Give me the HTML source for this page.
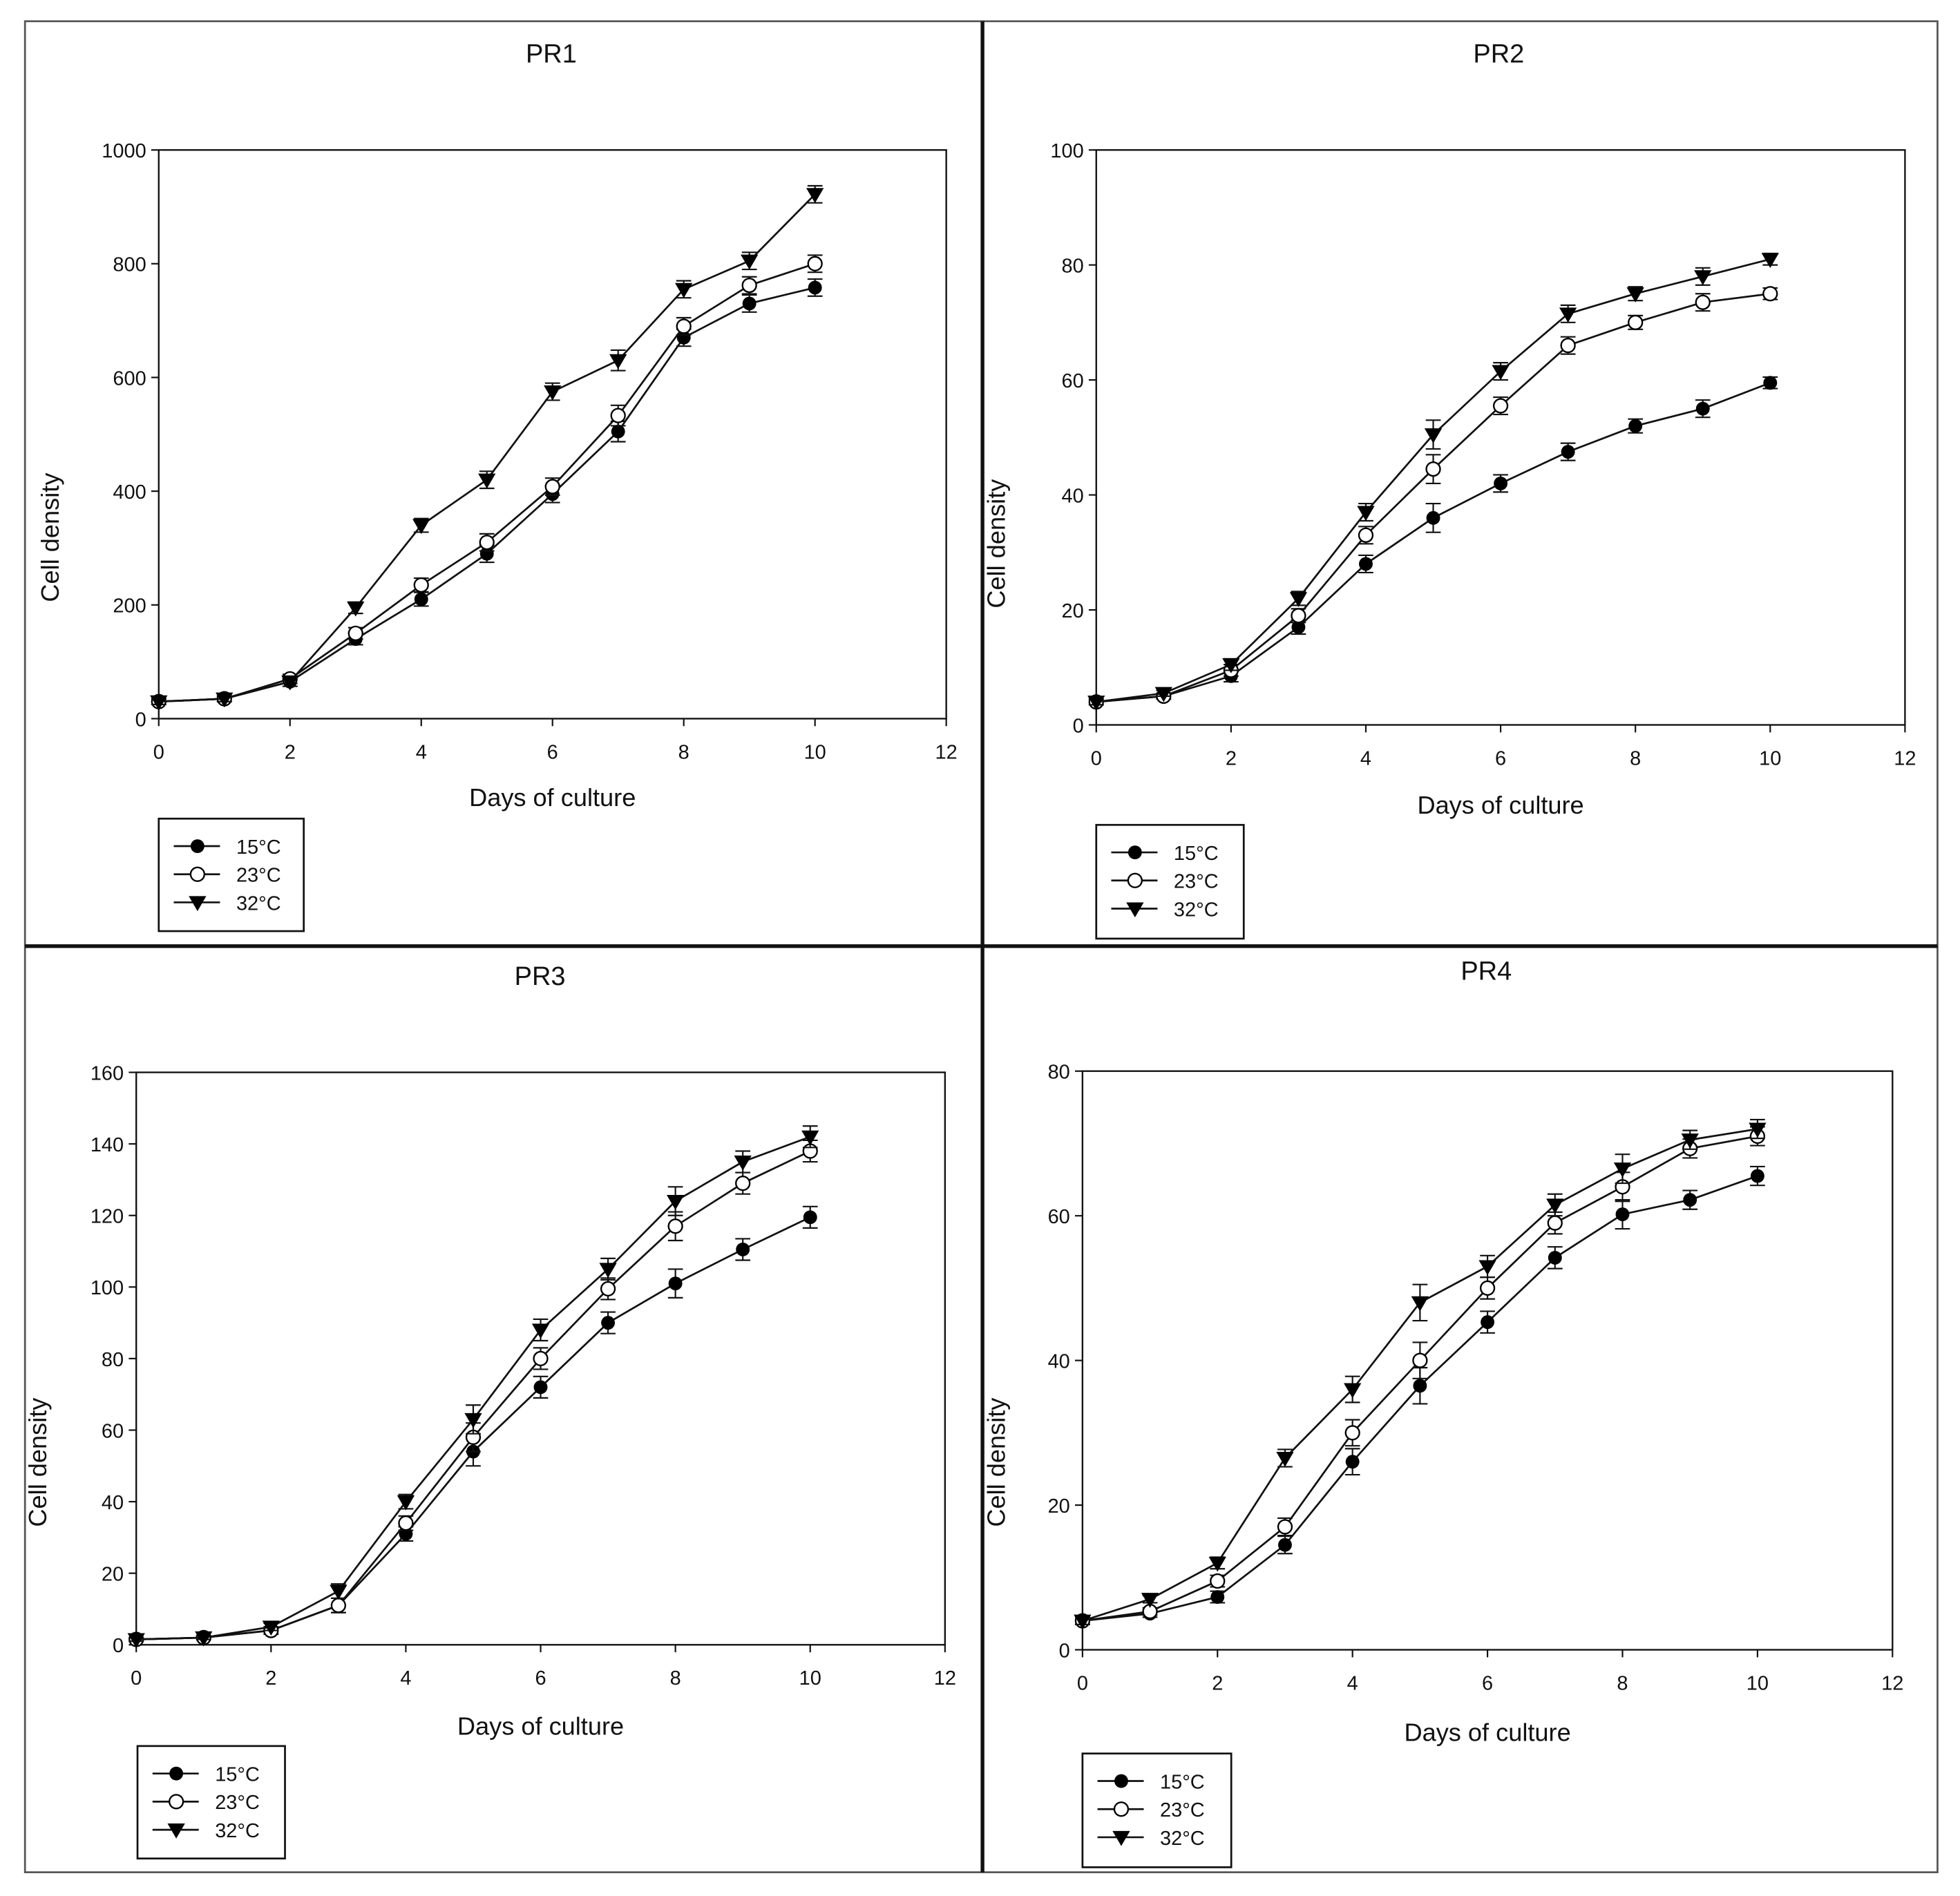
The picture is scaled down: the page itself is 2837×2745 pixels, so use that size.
<!DOCTYPE html>
<html><head><meta charset="utf-8"><style>
html,body{margin:0;padding:0;background:#fff;}
svg{display:block;font-family:"Liberation Sans",Arial,sans-serif;}
</style></head><body>
<svg id="fig" width="2837" height="2745" viewBox="0 0 1568 1517" preserveAspectRatio="none" xmlns="http://www.w3.org/2000/svg">
<rect x="0" y="0" width="1568" height="1517" fill="#fff"/>
<rect x="20" y="17" width="1530" height="1481" fill="none" stroke="#555" stroke-width="1.5"/>
<line x1="786" y1="17" x2="786" y2="1498" stroke="#111" stroke-width="3"/>
<line x1="20" y1="757" x2="1550" y2="757" stroke="#111" stroke-width="3"/>
</svg>
<script>
const days=[0,1,2,3,4,5,6,7,8,9,10];
const seriesNames=["15°C","23°C","32°C"];
const xTicks=[0,2,4,6,8,10,12];
const pr1Y15=[30,35,65,140,210,290,395,505,670,730,758];
const pr1Y23=[30,35,70,150,235,310,408,533,690,762,800];
const pr1Y32=[30,35,65,195,340,420,575,630,755,805,922];
const pr1Err=[5,5,8,10,12,15,15,18,15,15,15];
const pr1YTicks=[0,200,400,600,800,1000];
const pr2Y15=[4,5,8.5,17,28,36,42,47.5,52,55,59.5];
const pr2Y23=[4,5,9.5,19,33,44.5,55.5,66,70,73.5,75];
const pr2Y32=[4,5.5,10.5,22,37,50.5,61.5,71.5,75,78,81];
const pr2Err=[0.5,0.5,1,1.2,1.5,2.5,1.5,1.5,1.2,1.5,1];
const pr2YTicks=[0,20,40,60,80,100];
const pr3Y15=[1.5,2,4,11,31,54,72,90,101,110.5,119.5];
const pr3Y23=[1.5,2,4,11,34,58,80,99.5,117,129,138];
const pr3Y32=[1.5,2,5,15,40,63,88,105,124,135,142];
const pr3Err=[0.5,0.5,1,2,2,4,3,3,4,3,3];
const pr3YTicks=[0,20,40,60,80,100,120,140,160];
const pr4Y15=[4,5,7.3,14.5,26,36.5,45.3,54.2,60.2,62.2,65.5];
const pr4Y23=[4,5.3,9.5,17,30,40,50,59,64,69.3,71];
const pr4Y32=[4,7,12,26.5,36,48,53,61.5,66.5,70.5,72];
const pr4Err=[0.5,0.5,0.8,1.2,1.8,2.5,1.5,1.5,2,1.3,1.3];
const pr4YTicks=[0,20,40,60,80];

const NS="http://www.w3.org/2000/svg";
const svg=document.getElementById('fig');
function mk(tag,attrs,parent){const e=document.createElementNS(NS,tag);for(const k in attrs)e.setAttribute(k,attrs[k]);(parent||svg).appendChild(e);return e;}

const panels=[
 {id:'pr1',title:'PR1',tx:441,ty:50,L:127,R:757,T:120,B:575,ymax:1000,yt:pr1YTicks,ys:[pr1Y15,pr1Y23,pr1Y32],err:pr1Err,xly:601,xlabY:645,ylabX:47,ylabY:430,lg:[127,655,116,90]},
 {id:'pr2',title:'PR2',tx:1199,ty:50,L:877,R:1524,T:120,B:580,ymax:100,yt:pr2YTicks,ys:[pr2Y15,pr2Y23,pr2Y32],err:pr2Err,xly:606,xlabY:651,ylabX:804,ylabY:435,lg:[877,660,118,91]},
 {id:'pr3',title:'PR3',tx:432,ty:788,L:109,R:756,T:858,B:1316,ymax:160,yt:pr3YTicks,ys:[pr3Y15,pr3Y23,pr3Y32],err:pr3Err,xly:1342,xlabY:1388,ylabX:37,ylabY:1170,lg:[110,1397,118,90]},
 {id:'pr4',title:'PR4',tx:1189,ty:784,L:866,R:1514,T:857,B:1320,ymax:80,yt:pr4YTicks,ys:[pr4Y15,pr4Y23,pr4Y32],err:pr4Err,xly:1346,xlabY:1393,ylabX:804,ylabY:1170,lg:[866,1403,119,91]}
];

function marker(g,i,x,y){
  if(i===0){const m=mk('circle',{cx:x,cy:y,r:5.5,fill:'#000'},g);}
  else if(i===1){const m=mk('circle',{cx:x,cy:y,r:5.5,fill:'#fff',stroke:'#000','stroke-width':1.3},g);}
  else{const m=mk('polygon',{points:`${x-7},${y-5} ${x+7},${y-5} ${x},${y+7}`,fill:'#000'},g);}
}

panels.forEach(p=>{
  const g=mk('g',{});
  
  
  const xs=v=>p.L+(p.R-p.L)*v/12;
  const ys=v=>p.B-(p.B-p.T)*v/p.ymax;
  const t=mk('text',{x:p.tx,y:p.ty,'font-size':21,'text-anchor':'middle',fill:'#111'},g);t.textContent=p.title;
  
  const box=mk('rect',{x:p.L,y:p.T,width:p.R-p.L,height:p.B-p.T,fill:'none',stroke:'#111','stroke-width':1.3},g);
  
  xTicks.forEach(v=>{
    mk('line',{x1:xs(v),y1:p.B,x2:xs(v),y2:p.B+6,stroke:'#111','stroke-width':1.2},g);
    const l=mk('text',{x:xs(v),y:p.xly+6,'font-size':16,'text-anchor':'middle',fill:'#111'},g);l.textContent=v;
    
  });
  p.yt.forEach(v=>{
    mk('line',{x1:p.L-6,y1:ys(v),x2:p.L,y2:ys(v),stroke:'#111','stroke-width':1.2},g);
    const l=mk('text',{x:p.L-10,y:ys(v)+6,'font-size':16,'text-anchor':'end',fill:'#111'},g);l.textContent=v;
    
  });
  const xl=mk('text',{x:(p.L+p.R)/2,y:p.xlabY,'font-size':20,'text-anchor':'middle',fill:'#111'},g);xl.textContent='Days of culture';
  
  const yl=mk('text',{x:p.ylabX,y:p.ylabY,'font-size':20,'text-anchor':'middle',fill:'#111',transform:`rotate(-90 ${p.ylabX} ${p.ylabY})`},g);yl.textContent='Cell density';
  
  p.ys.forEach((arr,i)=>{
    const pts=days.map((d,k)=>xs(d)+','+ys(arr[k])).join(' ');
    const pl=mk('polyline',{points:pts,fill:'none',stroke:'#111','stroke-width':1.5},g);
    
    days.forEach((d,k)=>{
      const x=xs(d),y1=ys(arr[k]-p.err[k]),y2=ys(arr[k]+p.err[k]);
      const e=mk('path',{d:`M${x},${y1}V${y2}M${x-6},${y1}h12M${x-6},${y2}h12`,stroke:'#111','stroke-width':1.2,fill:'none'},g);
      
    });
    days.forEach((d,k)=>marker(g,i,xs(d),ys(arr[k])));
  });
  const [lx,ly,lw,lh]=p.lg;
  const lg=mk('g',{},g);
  
  mk('rect',{x:lx,y:ly,width:lw,height:lh,fill:'#fff',stroke:'#111','stroke-width':1.5},lg);
  seriesNames.forEach((n,i)=>{
    const yy=ly+22+i*22.5;
    const e=mk('g',{},lg);
    
    mk('line',{x1:lx+12,y1:yy,x2:lx+49,y2:yy,stroke:'#111','stroke-width':1.5},e);
    marker(e,i,lx+31,yy);
    const tx=mk('text',{x:lx+62,y:yy+6,'font-size':16,fill:'#111'},e);tx.textContent=n;
  });
});
</script>
</body></html>
